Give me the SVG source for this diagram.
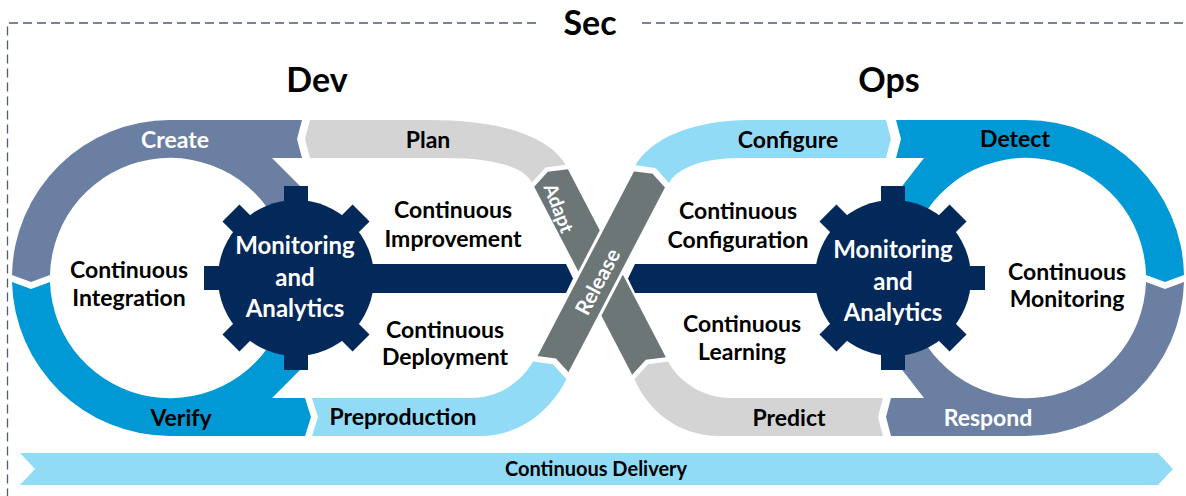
<svg xmlns="http://www.w3.org/2000/svg" width="1186" height="496" viewBox="0 0 1186 496">
<defs>
<style>
text{font-family:Lato,"Open Sans","Liberation Sans",sans-serif;font-weight:bold;text-anchor:middle}
.lbl{font-size:23px;fill:#000}
.wl{font-size:23px;fill:#fff}
.gt{font-size:24px;fill:#fff}
.title{font-size:34px;fill:#000}
.slate{fill:#6a7fa2}
.blue{fill:#0099d5}
.lgray{fill:#d4d4d4}
.lblue{fill:#92dbf6}
.dgray{fill:#6d7676}
.navy{fill:#03295a}
.dash{fill:none;stroke:#4d5d75;stroke-width:1.3;stroke-dasharray:9 5}
</style>
<g id="gear" class="navy">
<circle r="78"/>
<rect x="-12" y="-92" width="24" height="184"/>
<rect x="-12" y="-92" width="24" height="184" transform="rotate(45)"/>
<rect x="-12" y="-92" width="24" height="184" transform="rotate(90)"/>
<rect x="-12" y="-92" width="24" height="184" transform="rotate(135)"/>
</g>
</defs>
<rect width="1186" height="496" fill="#fff"/>
<g id="sec-frame">
<path class="dash" d="M536,23 H7.5 V496"/>
<path class="dash" d="M642,23 H1186"/>
<text class="title" x="590" y="35">Sec</text>
</g>
<text id="dev-title" class="title" x="317" y="92">Dev</text>
<text id="ops-title" class="title" x="889" y="92">Ops</text>

<g id="create"><path class="slate" d="M12,275 A158,158 0 0 1 170,120 L302,120 L297,139 L302,158 L272,158 L302,188 L310,230 L296,278 L282.8,237 A120,120 0 0 0 50,275 L31,282 Z"/><text class="wl" x="175" y="148">Create</text></g>
<g id="verify"><path class="blue" d="M12,282 L31,289 L50,282 A120,120 0 0 0 282.8,319 L296,278 L310,326 L302,368 L272,398 L305,398 L311,417 L305,436 L170,436 A158,158 0 0 1 12,282 Z"/><text class="lbl" x="181" y="426">Verify</text></g>
<g id="plan"><path class="lgray" d="M310,120 L430,120 C490,120 546,132 565.6,164.8 L545.5,167.4 L531.9,182.4 C525,169 500,158 445,158 L310,158 L305,139 Z"/><text class="lbl" x="428" y="148">Plan</text></g>
<g id="preproduction"><path class="lblue" d="M312,398 L318,417 L312,436 L480,436 C522,436 552,408 566.5,379.2 L552.9,364.2 L532.9,361.6 C526,375 505,398 470,398 Z"/><text class="lbl" x="403" y="425">Preproduction</text></g>
<g id="configure"><path class="lblue" d="M635.5,165.3 C650,140 690,120 750,120 L886,120 L891,139 L886,158 L740,158 C700,158 676,169.6 669.1,182.9 L655.5,167.9 Z"/><text class="lbl" x="788" y="148">Configure</text></g>
<g id="detect"><path class="blue" d="M896,120 L1026,120 A158,158 0 0 1 1184,275 L1165,282 L1146,275 A120,120 0 0 0 913.2,237 L893,278 L882,230 L903,185 L924,158 L896,158 L901,139 Z"/><text class="lbl" x="1015" y="147">Detect</text></g>
<g id="respond"><path class="slate" d="M1184,282 L1165,289 L1146,282 A120,120 0 0 1 913.2,319 L893,278 L882,326 L903,371 L924,398 L891,398 L886,417 L891,436 L1026,436 A158,158 0 0 0 1184,282 Z"/><text class="wl" x="988" y="426">Respond</text></g>
<g id="predict"><path class="lgray" d="M883,398 L878,417 L883,436 L720,436 C674,436 646,406 634.5,379.2 L648.1,364.2 L668.2,361.6 C676,378 700,398 730,398 Z"/><text class="lbl" x="789" y="426">Predict</text></g>

<g id="connectors">
<path class="navy" d="M290,264 L566,264 L573,278.5 L566,293 L290,293 Z"/>
<path class="navy" d="M900,264 L635,264 L628,278.5 L635,293 L900,293 Z"/>
</g>

<g id="gear-dev"><use href="#gear" x="296" y="278"/>
<text class="gt" x="295" y="254">Monitoring</text><text class="gt" x="295" y="286">and</text><text class="gt" x="295" y="317">Analytics</text></g>
<g id="gear-ops"><use href="#gear" x="893" y="278"/>
<text class="gt" x="893" y="258">Monitoring</text><text class="gt" x="893" y="290">and</text><text class="gt" x="893" y="321">Analytics</text></g>

<g id="adapt"><path class="dgray" d="M567.9,169.2 L665.9,357.2 L645.8,359.8 L632.2,374.8 L534.2,186.8 L547.8,171.8 Z"/><text class="wl" transform="translate(559,208) rotate(69)" y="7" style="font-size:19px">Adapt</text></g>
<g id="release"><path class="dgray" stroke="#fff" stroke-width="3" d="M535.2,357.2 L633.2,169.7 L653.2,172.3 L666.8,187.3 L568.8,374.8 L555.2,359.8 Z"/><text class="wl" transform="translate(598,282) rotate(-62)" y="7" style="font-size:21px">Release</text></g>

<g id="ci"><text class="lbl" x="129" y="278">Continuous</text><text class="lbl" x="129" y="306">Integration</text></g>
<g id="cimp"><text class="lbl" x="453" y="218">Continuous</text><text class="lbl" x="453" y="247">Improvement</text></g>
<g id="cdep"><text class="lbl" x="445" y="338">Continuous</text><text class="lbl" x="445" y="365">Deployment</text></g>
<g id="cconf"><text class="lbl" x="738" y="219">Continuous</text><text class="lbl" x="738" y="248">Configuration</text></g>
<g id="cmon"><text class="lbl" x="1067" y="280">Continuous</text><text class="lbl" x="1067" y="307">Monitoring</text></g>
<g id="clearn"><text class="lbl" x="742" y="332">Continuous</text><text class="lbl" x="742" y="360">Learning</text></g>

<g id="delivery"><path class="lblue" d="M20,453 L1158,453 L1173,469 L1158,485 L20,485 L35,469 Z"/><text style="font-size:20px" x="596" y="476">Continuous Delivery</text></g>
</svg>
